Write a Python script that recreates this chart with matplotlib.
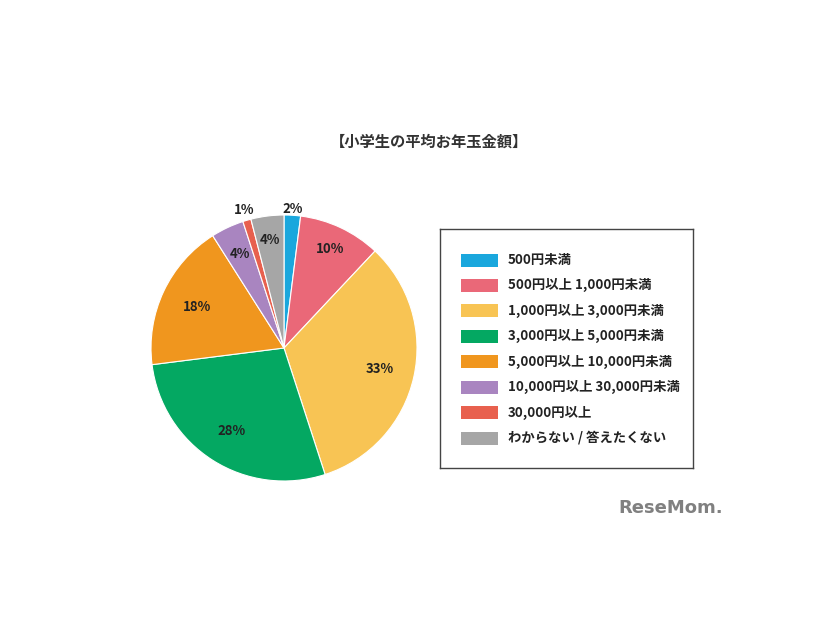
import numpy as np
import matplotlib
matplotlib.use("Agg")
import matplotlib.pyplot as plt
from matplotlib.patches import Rectangle

plt.rcParams['font.family'] = ['Noto Sans CJK JP', 'DejaVu Sans']

# データ
categories = ['500円未満', '500円以上 1,000円未満', '1,000円以上 3,000円未満',
              '3,000円以上 5,000円未満', '5,000円以上 10,000円未満',
              '10,000円以上 30,000円未満', '30,000円以上', 'わからない / 答えたくない']
shares = [2, 10, 33, 28, 18, 4, 1, 4]
colors = ['#1AA7DD', '#EA6878', '#F8C454', '#04A862', '#F0961E',
          '#A985C0', '#E8604E', '#A6A6A6']
# ラベル位置 (半径比)
label_r = [1.05, 0.82, 0.74, 0.74, 0.72, 0.78, 1.08, 0.82]

W, H = 826, 620
fig = plt.figure(figsize=(W / 100, H / 100), dpi=100)
fig.patch.set_facecolor('white')

# 円グラフ
cx, cy, r = 284, 348, 133
ax = fig.add_axes([(cx - r) / W, (H - cy - r) / H, 2 * r / W, 2 * r / H])
wedges, _ = ax.pie(shares, colors=colors, startangle=90, counterclock=False,
                   wedgeprops=dict(edgecolor='white', linewidth=0.8))
ax.set_xlim(-1, 1)
ax.set_ylim(-1, 1)
ax.axis('off')

for w, v, lr in zip(wedges, shares, label_r):
    ang = np.deg2rad((w.theta1 + w.theta2) / 2)
    ax.text(lr * np.cos(ang), lr * np.sin(ang), f'{v}%', ha='center', va='center',
            fontsize=9.5, fontweight='bold', color='#222222')

# タイトル
fig.text(429 / W, 1 - 142 / H, '【小学生の平均お年玉金額】', ha='center', va='center',
         fontsize=11, fontweight='bold', color='#333333')

# 凡例
lx0, ly0, lx1, ly1 = 440, 229, 693, 468
lax = fig.add_axes([lx0 / W, 1 - ly1 / H, (lx1 - lx0) / W, (ly1 - ly0) / H])
lax.set_xlim(lx0, lx1)
lax.set_ylim(ly1, ly0)
lax.set_xticks([])
lax.set_yticks([])
for s in lax.spines.values():
    s.set_edgecolor('#444444')
    s.set_linewidth(1.0)
row_y = np.linspace(260, 438, len(categories))
for yy, lab, c in zip(row_y, categories, colors):
    lax.add_patch(Rectangle((461, yy - 6.5), 37, 13, facecolor=c, edgecolor='none'))
    lax.text(508, yy, lab, ha='left', va='center', fontsize=9.6,
             fontweight='bold', color='#222222')

# ロゴ
fig.text(671 / W, 1 - 508 / H, 'ReseMom.', ha='center', va='center',
         fontsize=13, fontweight='bold', color='#808080', family='DejaVu Sans')

fig.savefig('out.png', dpi=100)
